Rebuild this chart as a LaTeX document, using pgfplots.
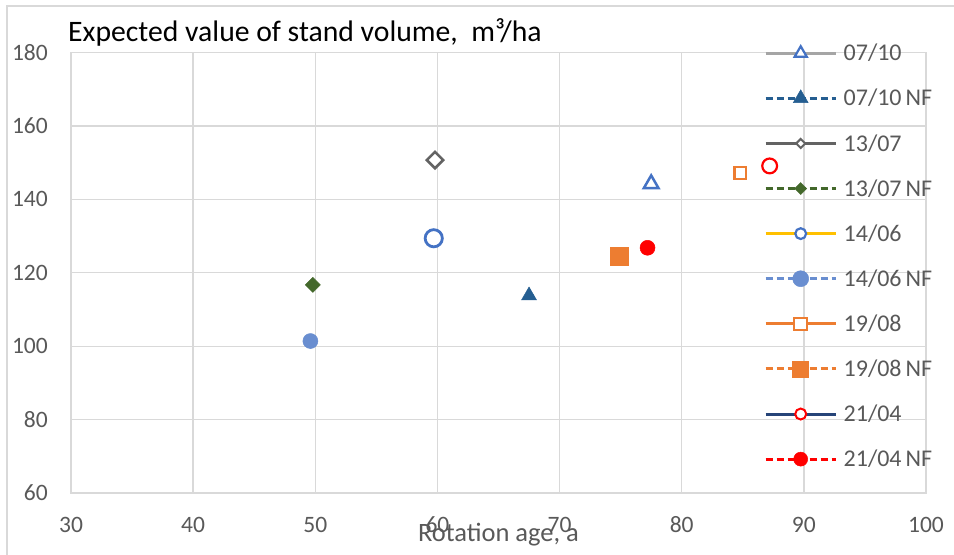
\documentclass[border=0pt]{standalone}
\usepackage{fontspec}
\setmainfont{Carlito}
\usepackage{pgfplots}
\pgfplotsset{compat=1.18}
\definecolor{tickc}{HTML}{595959}
\definecolor{gridc}{HTML}{D9D9D9}
\definecolor{framec}{HTML}{D9D9D9}
\definecolor{c0710}{HTML}{4472C4}
\definecolor{l0710}{HTML}{A5A5A5}
\definecolor{c0710nf}{HTML}{255E91}
\definecolor{c1307}{HTML}{636363}
\definecolor{c1307nf}{HTML}{43682B}
\definecolor{l1406}{HTML}{FFC000}
\definecolor{c1406nf}{HTML}{698ED0}
\definecolor{c1908}{HTML}{ED7D31}
\definecolor{l2104}{HTML}{264478}
\definecolor{c2104}{HTML}{FF0000}
\begin{document}
\begin{tikzpicture}
\useasboundingbox (0,0) rectangle (954bp,555bp);
\fill[white] (0,0) rectangle (954bp,555bp);
\draw[framec, line width=1.5bp] (7bp,0) -- (7bp,549bp) -- (954bp,549bp);
\begin{axis}[
  at={(71bp,62bp)}, anchor=south west,
  scale only axis, width=855bp, height=440.5bp,
  xmin=30, xmax=100, ymin=60, ymax=180,
  xtick={30,40,...,100}, ytick={60,80,...,180},
  grid=major,
  major grid style={draw=gridc, line width=1.3bp},
  axis line style={draw=gridc, line width=1.3bp},
  x axis line style={draw=gridc!80!black},
  tick style={draw=none},
  /pgf/number format/assume math mode=true,
  ticklabel style={font=\fontsize{23.5bp}{28bp}\selectfont, text=tickc, inner sep=0pt},
  xticklabel style={anchor=center, yshift=-31.5bp},
  yticklabel style={anchor=east, xshift=-23bp},
  xlabel={Rotation age, a},
  xlabel style={at={(axis description cs:0.5,0)}, anchor=base, yshift=-48bp, inner sep=0pt,
    font=\fontsize{26.5bp}{30bp}\selectfont, text=tickc},
  title={Expected value of stand volume,~ m³/ha},
  title style={at={(axis description cs:0,1)}, anchor=base west, xshift=-3bp, yshift=-6pt, yshift=10.5bp,
    inner sep=0pt, font=\fontsize{29.7bp}{34bp}\selectfont, text=black},
  legend cell align=left,
  legend style={at={(axis description cs:0.8123,1.05)}, anchor=north west,
    draw=none, fill=none, inner sep=0pt, row sep=0pt, column sep=0pt,
    font=\fontsize{24bp}{28bp}\selectfont, text=tickc,
    nodes={inner sep=0pt, xshift=11bp}},
  legend image code/.code={
    \pgfpathrectangle{\pgfpoint{0bp}{-22.55bp}}{\pgfpoint{78bp}{45.1bp}}
    \pgfusepath{use as bounding box}
    \draw[mark repeat=2, mark phase=2, #1] plot coordinates {(0bp,0bp) (35bp,0bp) (70bp,0bp)};
  },
]
% data points
\addplot[forget plot, only marks, mark=triangle*, mark size=8.5bp,
  mark options={draw=c0710, fill=white, line width=2.5bp}] coordinates {(77.5,144.2)};
\addplot[forget plot, only marks, mark=triangle*, mark size=8.5bp,
  mark options={draw=c0710nf, fill=c0710nf, line width=0.5bp}] coordinates {(67.5,113.8)};
\addplot[forget plot, only marks, mark=square*, mark size=5.8bp,
  mark options={rotate=45, draw=c1307, fill=white, line width=2.5bp}] coordinates {(59.8,150.7)};
\addplot[forget plot, only marks, mark=square*, mark size=5.3bp,
  mark options={rotate=45, draw=c1307nf, fill=c1307nf, line width=0.5bp}] coordinates {(49.8,116.7)};
\addplot[forget plot, only marks, mark=*, mark size=8.6bp,
  mark options={draw=c0710, fill=white, line width=2.8bp}] coordinates {(59.7,129.4)};
\addplot[forget plot, only marks, mark=*, mark size=7.5bp,
  mark options={draw=c1406nf, fill=c1406nf, line width=0.5bp}] coordinates {(49.6,101.4)};
\addplot[forget plot, only marks, mark=square*, mark size=5.9bp,
  mark options={draw=c1908, fill=white, line width=2.2bp}] coordinates {(84.8,147.1)};
\addplot[forget plot, only marks, mark=square*, mark size=9bp,
  mark options={draw=c1908, fill=c1908, line width=0.5bp}] coordinates {(74.9,124.5)};
\addplot[forget plot, only marks, mark=*, mark size=7.4bp,
  mark options={draw=c2104, fill=white, line width=2.2bp}] coordinates {(87.2,149.1)};
\addplot[forget plot, only marks, mark=*, mark size=7.5bp,
  mark options={draw=c2104, fill=c2104, line width=0.5bp}] coordinates {(77.2,126.8)};
% legend
\addlegendimage{l0710, line width=3bp, mark=triangle*, mark size=7bp,
  mark options={solid, draw=c0710, fill=white, line width=2.2bp}}
\addlegendentry{07/10}
\addlegendimage{c0710nf, line width=3bp, dash pattern=on 7bp off 4bp, mark=triangle*, mark size=8.5bp,
  mark options={solid, draw=c0710nf, fill=c0710nf, line width=0.5bp}}
\addlegendentry{{\spaceskip=4bp\relax 07/10 NF}}
\addlegendimage{c1307, line width=3bp, mark=square*, mark size=3.2bp,
  mark options={solid, rotate=45, draw=c1307, fill=white, line width=2bp}}
\addlegendentry{13/07}
\addlegendimage{c1307nf, line width=3bp, dash pattern=on 7bp off 4bp, mark=square*, mark size=4.2bp,
  mark options={solid, rotate=45, draw=c1307nf, fill=c1307nf, line width=0.5bp}}
\addlegendentry{{\spaceskip=4bp\relax 13/07 NF}}
\addlegendimage{l1406, line width=3bp, mark=*, mark size=5.4bp,
  mark options={solid, draw=c0710, fill=white, line width=2.2bp}}
\addlegendentry{14/06}
\addlegendimage{c1406nf, line width=3bp, dash pattern=on 7bp off 4bp, mark=*, mark size=8bp,
  mark options={solid, draw=c1406nf, fill=c1406nf, line width=0.5bp}}
\addlegendentry{{\spaceskip=4bp\relax 14/06 NF}}
\addlegendimage{c1908, line width=3bp, mark=square*, mark size=6.3bp,
  mark options={solid, draw=c1908, fill=white, line width=2bp}}
\addlegendentry{19/08}
\addlegendimage{c1908, line width=3bp, dash pattern=on 7bp off 4bp, mark=square*, mark size=8bp,
  mark options={solid, draw=c1908, fill=c1908, line width=0.5bp}}
\addlegendentry{{\spaceskip=4bp\relax 19/08 NF}}
\addlegendimage{l2104, line width=3bp, mark=*, mark size=5.5bp,
  mark options={solid, draw=c2104, fill=white, line width=2bp}}
\addlegendentry{21/04}
\addlegendimage{c2104, line width=3bp, dash pattern=on 7bp off 4bp, mark=*, mark size=7bp,
  mark options={solid, draw=c2104, fill=c2104, line width=0.5bp}}
\addlegendentry{{\spaceskip=4bp\relax 21/04 NF}}
\end{axis}
\end{tikzpicture}
\end{document}
